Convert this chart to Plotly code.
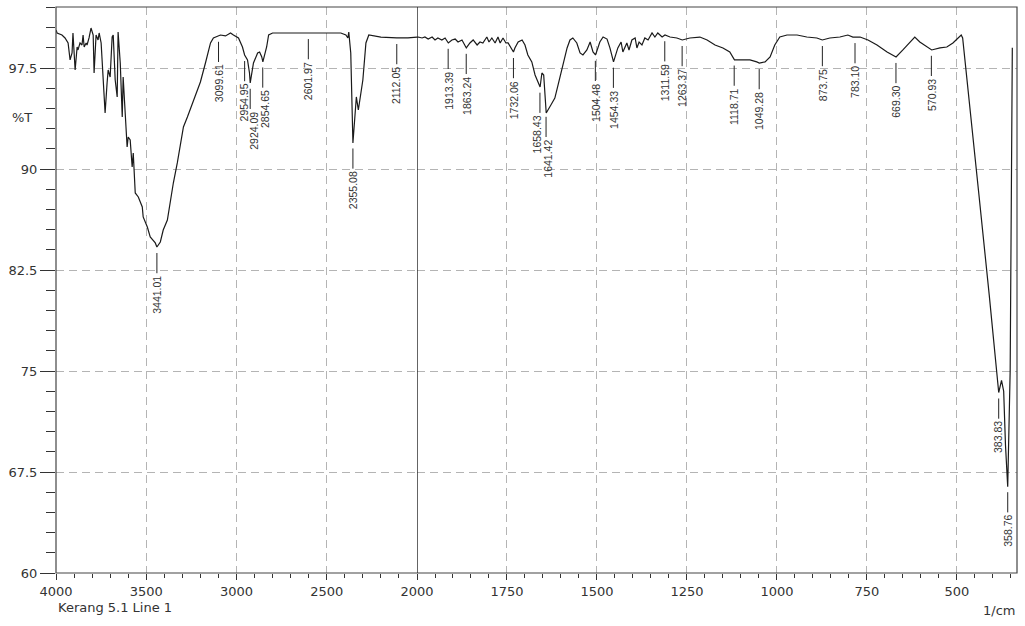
import numpy as np
import plotly.graph_objects as go

# ---- spectrum, 4000-2000 1/cm ----
wn_hi = [4000, 3994, 3967, 3950, 3933, 3922, 3911, 3906, 3894, 3883, 3878, 3867, 3856, 3850,
         3844, 3833, 3828, 3817, 3806, 3794, 3789, 3778, 3767, 3761, 3750, 3739, 3728, 3717,
         3711, 3700, 3689, 3683, 3672, 3661, 3656, 3644, 3633, 3628, 3617, 3606, 3600, 3589,
         3578, 3572, 3561, 3544, 3522, 3517, 3494, 3478, 3450, 3441, 3422, 3406, 3383, 3367,
         3350, 3328, 3311, 3294, 3272, 3239, 3211, 3200, 3172, 3144, 3128, 3099, 3089, 3061,
         3033, 3017, 2989, 2967, 2961, 2955, 2939, 2928, 2924, 2906, 2883, 2872, 2860, 2854,
         2833, 2822, 2800, 2644, 2602, 2494, 2422, 2394, 2383, 2378, 2367, 2355, 2336, 2325,
         2300, 2283, 2267, 2200, 2128, 2112, 2050, 2000]
t_hi = [100.32, 100.10, 99.95, 99.73, 99.36, 98.10, 98.62, 100.10, 97.35, 99.06, 98.84, 99.36,
        99.21, 99.95, 99.06, 99.36, 99.21, 99.73, 100.47, 99.95, 97.13, 99.95, 99.58, 100.10,
        99.36, 97.13, 94.16, 96.39, 97.35, 96.83, 99.80, 99.95, 96.61, 95.35, 100.17, 97.87,
        93.86, 96.83, 93.86, 91.63, 92.38, 92.15, 90.15, 91.19, 88.22, 87.92, 87.18, 86.44,
        85.69, 84.95, 84.51, 84.21, 84.58, 85.47, 86.21, 87.70, 88.96, 90.45, 91.93, 93.12,
        93.86, 95.12, 96.09, 96.46, 97.87, 99.36, 99.73, 99.90, 99.95, 99.88, 100.10, 99.95,
        99.73, 99.06, 98.62, 98.47, 98.10, 97.13, 96.39, 97.87, 98.62, 98.69, 98.32, 97.95,
        99.06, 99.95, 100.10, 100.10, 100.10, 100.10, 100.10, 99.95, 99.73, 100.17, 98.62,
        91.93, 95.35, 94.38, 96.61, 99.36, 99.95, 99.80, 99.73, 99.73, 99.73, 99.80]

# ---- spectrum, 2000-340 1/cm ----
wn_lo = [2000, 1997, 1986, 1978, 1969, 1958, 1950, 1942, 1931, 1922, 1913, 1903, 1894, 1886,
         1875, 1863, 1853, 1844, 1833, 1825, 1817, 1806, 1800, 1792, 1783, 1775, 1769, 1761,
         1753, 1747, 1732, 1728, 1719, 1708, 1700, 1692, 1681, 1672, 1658, 1653, 1648, 1644,
         1641, 1628, 1617, 1608, 1597, 1583, 1575, 1567, 1556, 1547, 1539, 1528, 1519, 1511,
         1504, 1492, 1483, 1472, 1464, 1458, 1454, 1442, 1433, 1428, 1417, 1411, 1403, 1394,
         1389, 1383, 1375, 1367, 1358, 1347, 1339, 1331, 1319, 1311, 1297, 1278, 1263, 1242,
         1214, 1194, 1172, 1150, 1131, 1118, 1103, 1075, 1056, 1049, 1033, 1019, 1006, 992,
         972, 944, 917, 889, 874, 853, 825, 803, 789, 769, 747, 722, 694, 669, 650, 631, 617,
         603, 583, 570, 547, 528, 511, 497, 488, 484, 470, 440, 410, 390, 383.8, 376, 370,
         365, 358.8, 352, 346]
t_lo = [99.80, 99.80, 99.73, 99.80, 99.65, 99.80, 99.58, 99.73, 99.58, 99.73, 99.36, 99.58,
        99.65, 99.43, 99.58, 98.99, 99.36, 99.58, 99.21, 99.43, 99.36, 99.80, 99.43, 99.73,
        99.36, 99.80, 99.36, 99.73, 99.36, 99.36, 98.69, 98.99, 99.43, 99.58, 99.21, 98.47,
        97.95, 96.98, 96.09, 97.13, 96.98, 95.35, 94.16, 94.75, 95.27, 96.24, 97.50, 98.99,
        99.58, 99.73, 99.36, 98.62, 98.47, 98.84, 99.43, 98.69, 98.47, 99.43, 99.80, 99.65,
        98.99, 98.24, 97.95, 98.99, 99.43, 98.69, 99.36, 98.84, 99.58, 99.73, 98.99, 99.43,
        99.21, 99.73, 99.58, 100.10, 99.80, 100.10, 99.80, 99.95, 99.80, 99.73, 99.58, 99.73,
        99.80, 99.58, 99.21, 98.99, 98.69, 98.10, 98.10, 98.10, 97.95, 97.87, 97.95, 98.32,
        99.21, 99.80, 99.95, 99.95, 99.80, 99.73, 99.58, 99.73, 99.80, 99.95, 99.80, 99.80,
        99.58, 99.21, 98.69, 98.32, 98.84, 99.43, 99.80, 99.43, 99.06, 98.84, 98.99, 99.06,
        99.36, 99.73, 99.95, 99.73, 96.24, 88.40, 80.60, 75.10, 73.40, 74.30, 73.50, 69.50,
        66.40, 75.00, 99.00]

# ---- peak labels ----
peak_wn = [3441.01, 3099.61, 2954.95, 2924.09, 2854.65, 2601.97, 2355.08, 2112.05,
           1913.39, 1863.24, 1732.06, 1658.43, 1641.42, 1504.48, 1454.33, 1311.59,
           1263.37, 1118.71, 1049.28, 873.75, 783.10, 669.30, 570.93, 383.83, 358.76]
peak_text = ["3441.01", "3099.61", "2954.95", "2924.09", "2854.65", "2601.97", "2355.08",
             "2112.05", "1913.39", "1863.24", "1732.06", "1658.43", "1641.42", "1504.48",
             "1454.33", "1311.59", "1263.37", "1118.71", "1049.28", "873.75", "783.10",
             "669.30", "570.93", "383.83", "358.76"]
# small horizontal nudges (px) for crowded labels
label_dx = {"2954.95": -1, "2924.09": 3, "2854.65": 3, "1658.43": -3, "1641.42": 2}

# ---- axes ----
y_ticks = [60, 67.5, 75, 82.5, 90, 97.5]
y_ticktext = ["60", "67.5", "75", "82.5", "90", "97.5"]
x_hi_ticks = [4000, 3500, 3000, 2500, 2000]
x_lo_ticks = [1750, 1500, 1250, 1000, 750, 500]

TXT = "#333333"
GRID = "#b4b4b4"
FONT = "DejaVu Sans"

fig = go.Figure()
fig.add_trace(go.Scatter(x=wn_hi, y=t_hi, mode="lines", xaxis="x", yaxis="y",
                         line=dict(color="#1a1a1a", width=1.2), showlegend=False))
fig.add_trace(go.Scatter(x=wn_lo, y=t_lo, mode="lines", xaxis="x2", yaxis="y",
                         line=dict(color="#1a1a1a", width=1.2), showlegend=False))

split = 361 / 961
common_x = dict(showline=False, zeroline=False, ticks="outside", ticklen=6,
                tickcolor="#333", tickwidth=1, showgrid=True, gridcolor=GRID,
                griddash="8px,5px", gridwidth=1, automargin=False,
                tickfont=dict(family=FONT, size=13, color=TXT), anchor="y")
fig.update_layout(
    width=1025, height=626, autosize=False,
    margin=dict(l=56, r=8, t=7, b=53),
    paper_bgcolor="white", plot_bgcolor="white",
    xaxis=dict(domain=[0, split], range=[4000, 2000], tickmode="array",
               tickvals=x_hi_ticks, ticktext=[str(v) for v in x_hi_ticks],
               minor=dict(tick0=0, dtick=100, ticks="outside", ticklen=4,
                          tickcolor="#333", showgrid=False), **common_x),
    xaxis2=dict(domain=[split, 1], range=[2000, 333], tickmode="array",
                tickvals=x_lo_ticks, ticktext=[str(v) for v in x_lo_ticks],
                minor=dict(tick0=0, dtick=50, ticks="outside", ticklen=4,
                           tickcolor="#333", showgrid=False), **common_x),
    yaxis=dict(range=[60, 102.03], tickmode="array", tickvals=y_ticks,
               ticktext=y_ticktext, showline=False, zeroline=False, automargin=False,
               ticks="outside", ticklen=15, tickcolor="#333",
               showgrid=True, gridcolor=GRID, griddash="8px,5px",
               tickfont=dict(family=FONT, size=13, color=TXT),
               minor=dict(tick0=60, dtick=1.5, ticks="outside", ticklen=9,
                          tickcolor="#333", showgrid=False)),
)

# frame and 2000 divider
fig.add_shape(type="rect", xref="paper", yref="paper", x0=0, x1=1, y0=0, y1=1,
              line=dict(color="#444", width=1.2), layer="above")
fig.add_shape(type="line", xref="x2", yref="paper", x0=2000, x1=2000, y0=0, y1=1,
              line=dict(color="#222", width=1.4), layer="above")

# peak labels positioned from the curve
all_wn = np.array(wn_hi + wn_lo, dtype=float)
all_t = np.array(t_hi + t_lo, dtype=float)
order = np.argsort(all_wn)
all_wn, all_t = all_wn[order], all_t[order]
GAP, LEN = 0.45, 1.5
for w, label in zip(peak_wn, peak_text):
    ax = "x" if w >= 2000 else "x2"
    yc = float(np.interp(w, all_wn, all_t))
    y_top = yc - GAP
    y_bot = y_top - LEN
    fig.add_shape(type="line", xref=ax, yref="y", x0=w, x1=w, y0=y_top, y1=y_bot,
                  line=dict(color="#222", width=1))
    fig.add_annotation(x=w, y=y_bot - 0.12, xref=ax, yref="y", text=label,
                       textangle=-90, showarrow=False, xanchor="center", yanchor="top",
                       xshift=label_dx.get(label, 0), borderpad=0,
                       font=dict(family="Arial, Liberation Sans", size=10.5, color=TXT))

fig.add_annotation(xref="paper", yref="paper", x=(22 - 56) / 961, y=(573 - 118) / 566,
                   text="%T", showarrow=False, xanchor="center", yanchor="middle",
                   font=dict(family=FONT, size=13, color=TXT))
fig.add_annotation(xref="paper", yref="paper", x=0.0, y=(573 - 607) / 566,
                   text="Kerang 5.1 Line 1", showarrow=False, xanchor="left",
                   yanchor="middle", font=dict(family=FONT, size=13, color=TXT))
fig.add_annotation(xref="paper", yref="paper", x=1.0, y=(573 - 610) / 566,
                   text="1/cm", showarrow=False, xanchor="right", yanchor="middle",
                   font=dict(family=FONT, size=13, color=TXT))

fig.write_html(
    "out.html",
    config={"responsive": False},
    post_script=("document.documentElement.style.overflow='hidden';"
                 "document.body.style.overflow='hidden';"
                 "document.body.style.margin='0';"),
)
